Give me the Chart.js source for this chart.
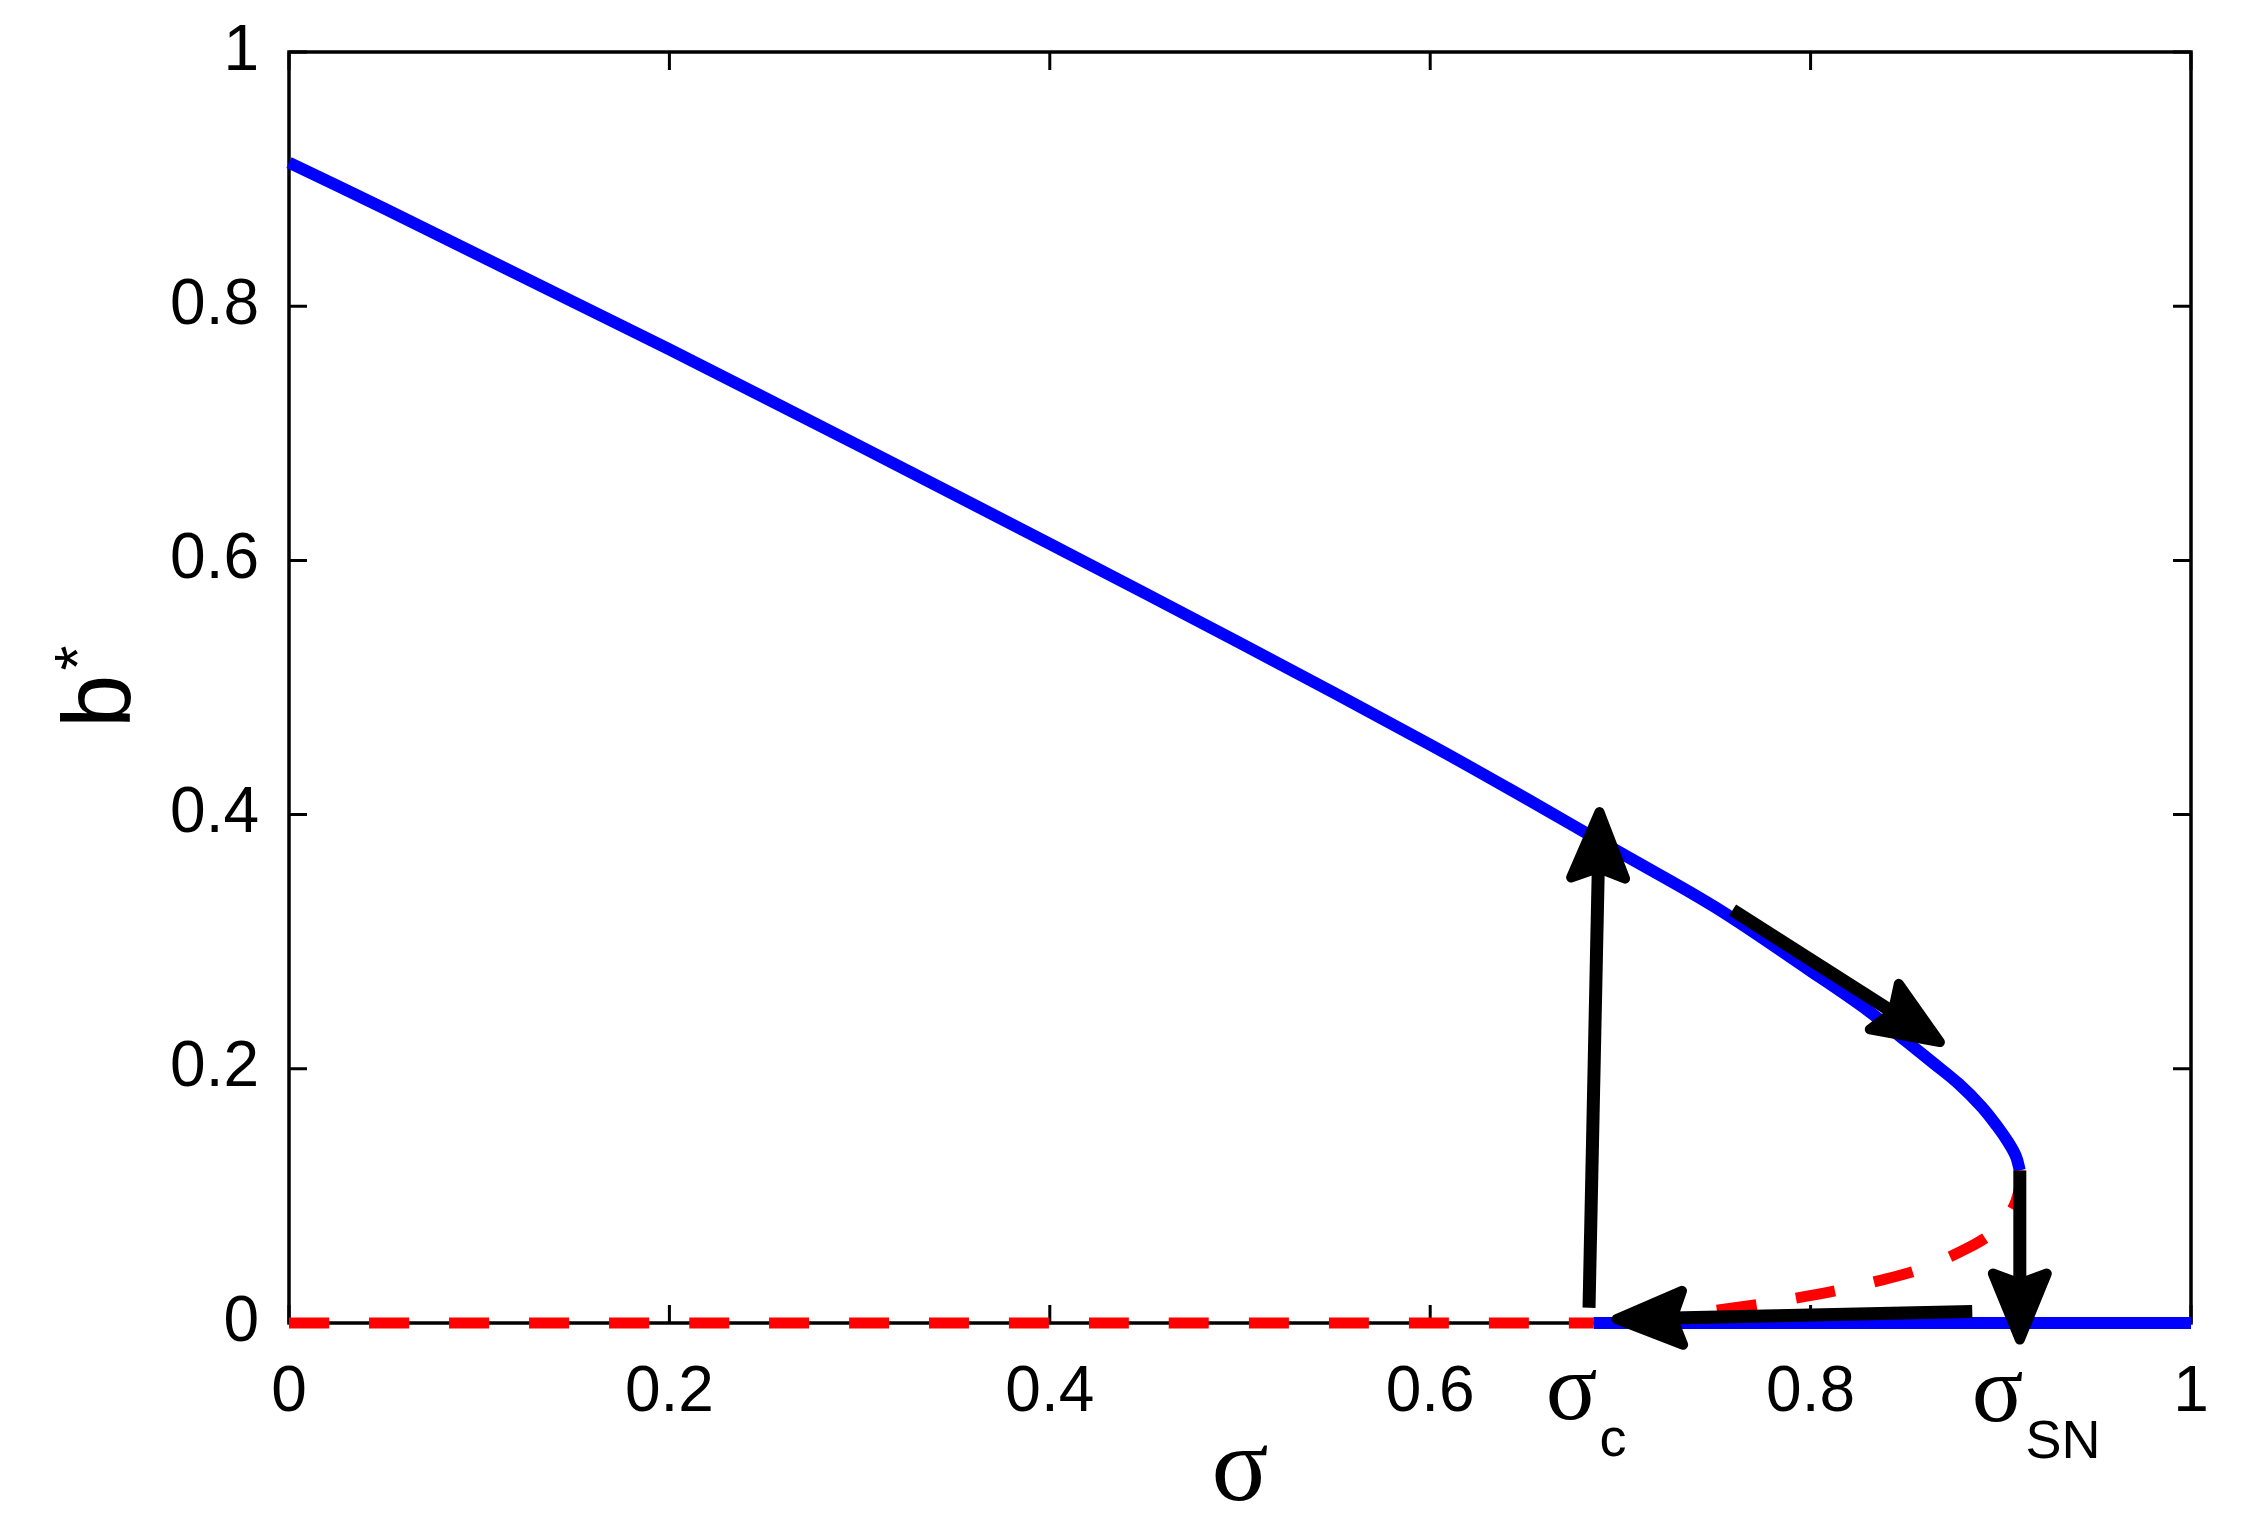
<!DOCTYPE html>
<html>
<head>
<meta charset="utf-8">
<script src="https://cdn.jsdelivr.net/npm/chart.js@4.4.1/dist/chart.umd.min.js"></script>
<style>
  html, body { margin: 0; padding: 0; background: #fff; }
  #wrap { width: 2253px; height: 1536px; }
</style>
</head>
<body>
<div id="wrap"><canvas id="bifurcation" width="2253" height="1536"></canvas></div>
<script>
// axis ticks
const xTicks = [0, 0.2, 0.4, 0.6, 0.8, 1];
const xTickLabels = ['0', '0.2', '0.4', '0.6', '0.8', '1'];
const yTicks = [0, 0.2, 0.4, 0.6, 0.8, 1];
const yTickLabels = ['0', '0.2', '0.4', '0.6', '0.8', '1'];

// critical values marked under the x axis
const sigmaC = 0.686;
const sigmaSN = 0.910;

// upper stable branch (blue)
const upperSigma = [0, 0.05, 0.1, 0.15, 0.2, 0.3, 0.4, 0.5, 0.6, 0.65, 0.7, 0.75, 0.8, 0.83, 0.85, 0.865, 0.878, 0.89, 0.898, 0.904, 0.908, 0.910];
const upperB = [0.913, 0.877, 0.840, 0.803, 0.766, 0.690, 0.613, 0.535, 0.455, 0.413, 0.370, 0.327, 0.277, 0.246, 0.222, 0.204, 0.188, 0.170, 0.155, 0.142, 0.131, 0.120];

// unstable middle branch (red dashed), from the fold back to sigma_c
const midSigma = [0.910, 0.910, 0.908, 0.905, 0.900, 0.893, 0.884, 0.870, 0.855, 0.835, 0.815, 0.790, 0.765, 0.740, 0.715, 0.700, 0.686];
const midB = [0.120, 0.108, 0.096, 0.087, 0.077, 0.068, 0.060, 0.050, 0.041, 0.033, 0.026, 0.019, 0.013, 0.008, 0.004, 0.002, 0];

// zero state: unstable below sigma_c, stable above
const zeroUnstableSigma = [0, sigmaC];
const zeroUnstableB = [0, 0];
const zeroStableSigma = [sigmaC, 1];
const zeroStableB = [0, 0];

// hysteresis arrows
const arrowFromSigma = [0.6835, 0.759, 0.910, 0.885];
const arrowFromB = [0.012, 0.325, 0.120, 0.009];
const arrowToSigma = [0.689, 0.868, 0.910, 0.698];
const arrowToB = [0.402, 0.221, -0.013, 0.003];

const zip = (xs, ys) => xs.map((v, i) => ({ x: v, y: ys[i] }));

const RED = '#ff0000';
const BLUE = '#0000ff';

// box, inward ticks on all four sides
const framePlugin = {
  id: 'frame',
  beforeDatasetsDraw(chart) {
    const { ctx, chartArea: a, scales: { x, y } } = chart;
    ctx.save();
    ctx.strokeStyle = '#000';
    ctx.lineWidth = 3.5;
    ctx.strokeRect(a.left, a.top, a.right - a.left, a.bottom - a.top);
    ctx.lineWidth = 3;
    ctx.beginPath();
    xTicks.forEach(v => {
      const px = x.getPixelForValue(v);
      ctx.moveTo(px, a.bottom); ctx.lineTo(px, a.bottom - 18);
      ctx.moveTo(px, a.top); ctx.lineTo(px, a.top + 18);
    });
    yTicks.forEach(v => {
      const py = y.getPixelForValue(v);
      ctx.moveTo(a.left, py); ctx.lineTo(a.left + 18, py);
      ctx.moveTo(a.right, py); ctx.lineTo(a.right - 18, py);
    });
    ctx.stroke();
    ctx.restore();
  }
};

function drawArrow(ctx, x0, y0, x1, y1) {
  const len = Math.hypot(x1 - x0, y1 - y0);
  const ux = (x1 - x0) / len, uy = (y1 - y0) / len;
  const nx = -uy, ny = ux;
  const headLen = 66, halfW = 27, notch = 56;
  ctx.lineWidth = 13;
  ctx.lineCap = 'butt';
  ctx.beginPath();
  ctx.moveTo(x0, y0);
  ctx.lineTo(x1 - ux * notch, y1 - uy * notch);
  ctx.stroke();
  ctx.lineWidth = 10;
  ctx.lineJoin = 'round';
  ctx.beginPath();
  ctx.moveTo(x1, y1);
  ctx.lineTo(x1 - ux * headLen + nx * halfW, y1 - uy * headLen + ny * halfW);
  ctx.lineTo(x1 - ux * notch, y1 - uy * notch);
  ctx.lineTo(x1 - ux * headLen - nx * halfW, y1 - uy * headLen - ny * halfW);
  ctx.closePath();
  ctx.fill();
  ctx.stroke();
}

const arrowPlugin = {
  id: 'arrows',
  afterDatasetsDraw(chart) {
    const { ctx, scales: { x, y } } = chart;
    ctx.save();
    ctx.fillStyle = '#000';
    ctx.strokeStyle = '#000';
    arrowFromSigma.forEach((s, i) => {
      drawArrow(ctx,
        x.getPixelForValue(s), y.getPixelForValue(arrowFromB[i]),
        x.getPixelForValue(arrowToSigma[i]), y.getPixelForValue(arrowToB[i]));
    });
    ctx.restore();
  }
};

function sigmaLabel(ctx, px, base, sub) {
  ctx.font = '96px "Liberation Serif"';
  ctx.textAlign = 'left';
  ctx.textBaseline = 'alphabetic';
  const left = px - 48;
  ctx.fillText('σ', left, base);
  const w = ctx.measureText('σ').width;
  ctx.font = '54px "Liberation Sans"';
  ctx.fillText(sub, left + w + 2, base + 37);
}

// sigma_c / sigma_SN markers and the axis titles
const labelPlugin = {
  id: 'labels',
  afterDraw(chart) {
    const { ctx, chartArea: a, scales: { x } } = chart;
    ctx.save();
    ctx.fillStyle = '#000';
    sigmaLabel(ctx, x.getPixelForValue(sigmaC), a.bottom + 96, 'c');
    sigmaLabel(ctx, x.getPixelForValue(sigmaSN), a.bottom + 98, 'SN');

    ctx.font = '106px "Liberation Serif"';
    ctx.textAlign = 'center';
    ctx.fillText('σ', (a.left + a.right) / 2, a.bottom + 177);

    ctx.translate(130, 728);
    ctx.rotate(-Math.PI / 2);
    ctx.textAlign = 'left';
    ctx.font = '96px "Liberation Sans"';
    ctx.fillText('b', 0, 0);
    const bw = ctx.measureText('b').width;
    ctx.font = '64px "Liberation Sans"';
    ctx.fillText('*', bw + 4, -30);
    ctx.restore();
  }
};

const lineStyle = (color, dashed, width) => ({
  showLine: true,
  borderColor: color,
  borderWidth: width,
  borderDash: dashed ? [40, 40] : [],
  borderCapStyle: 'butt',
  pointRadius: 0,
  tension: 0.35,
  clip: 14
});

const fixedBox = (prop, size) => s => {
  s[prop] = size;
  s.paddingTop = 0; s.paddingBottom = 0; s.paddingLeft = 0; s.paddingRight = 0;
};

new Chart(document.getElementById('bifurcation'), {
  type: 'scatter',
  data: {
    datasets: [
      { data: zip(zeroUnstableSigma, zeroUnstableB), ...lineStyle(RED, true, 11) },
      { data: zip(zeroStableSigma, zeroStableB), ...lineStyle(BLUE, false, 12) },
      { data: zip(midSigma, midB), ...lineStyle(RED, true, 11) },
      { data: zip(upperSigma, upperB), ...lineStyle(BLUE, false, 12) }
    ]
  },
  options: {
    responsive: false,
    animation: false,
    devicePixelRatio: 1,
    events: [],
    layout: { padding: { top: 52, right: 62, left: 0, bottom: 0 } },
    plugins: { legend: { display: false }, tooltip: { enabled: false } },
    scales: {
      x: {
        type: 'linear', min: 0, max: 1,
        afterBuildTicks: s => { s.ticks = xTicks.map(v => ({ value: v })); },
        afterFit: fixedBox('height', 213),
        grid: { display: false },
        border: { display: false },
        ticks: {
          callback: (v, i) => xTickLabels[i],
          font: { family: '"Liberation Sans"', size: 64 },
          color: '#000', padding: 24, maxRotation: 0, autoSkip: false
        }
      },
      y: {
        type: 'linear', min: 0, max: 1,
        afterBuildTicks: s => { s.ticks = yTicks.map(v => ({ value: v })); },
        afterFit: fixedBox('width', 289),
        grid: { display: false },
        border: { display: false },
        ticks: {
          callback: (v, i) => yTickLabels[i],
          font: { family: '"Liberation Sans"', size: 64 },
          color: '#000', padding: 22, autoSkip: false
        }
      }
    }
  },
  plugins: [framePlugin, arrowPlugin, labelPlugin]
});
</script>
</body>
</html>
